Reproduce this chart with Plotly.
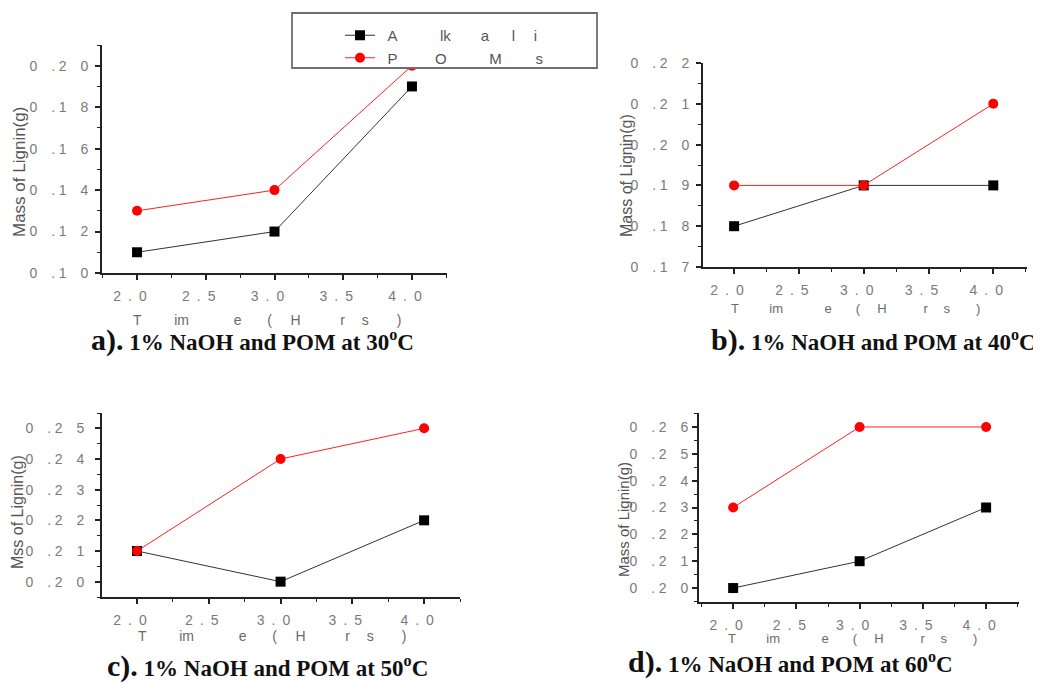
import plotly.graph_objects as go

# The page body has an 8px default margin, so the figure is drawn 8px in from the
# window's top-left corner; layout positions below are given in window pixels.
WIN_W, WIN_H, OFF = 1041, 683, 8
FW, FH = WIN_W - OFF, WIN_H - OFF

# ---------------- data ----------------
time_hrs = [2.0, 3.0, 4.0]
alkali_30 = [0.11, 0.12, 0.19]
poms_30 = [0.13, 0.14, 0.20]
alkali_40 = [0.18, 0.19, 0.19]
poms_40 = [0.19, 0.19, 0.21]
alkali_50 = [0.21, 0.20, 0.22]
poms_50 = [0.21, 0.24, 0.25]
alkali_60 = [0.20, 0.21, 0.23]
poms_60 = [0.23, 0.26, 0.26]

x_ticks = [2.0, 2.5, 3.0, 3.5, 4.0]
y_ticks_30 = [0.10, 0.12, 0.14, 0.16, 0.18, 0.20]
y_ticks_40 = [0.17, 0.18, 0.19, 0.20, 0.21, 0.22]
y_ticks_50 = [0.20, 0.21, 0.22, 0.23, 0.24, 0.25]
y_ticks_60 = [0.20, 0.21, 0.22, 0.23, 0.24, 0.25, 0.26]

series_names = ["Alkali", "POMs"]
y_titles = ["Mass of Lignin(g)", "Mass of Lignin(g)", "Mss of Lignin(g)", "Mass of Lignin(g)"]
x_title = "Time (Hrs)"
caption_labels = ["a).", "b).", "c).", "d)."]
caption_text = ["1% NaOH and POM at 30", "1% NaOH and POM at 40",
                "1% NaOH and POM at 50", "1% NaOH and POM at 60"]

# ---------------- helpers ----------------
EM, EN, P3, P4, TH = "\u2003", "\u2002", "\u2004", "\u2005", "\u2009"


def px_x(px):
    return (px - OFF) / FW


def px_y(py):
    return 1 - (py - OFF) / FH


def ylab(v):
    s = f"{v:.2f}"  # 0.20
    return s[0] + EM + "." + P4 + s[2] + EM + s[3]


def xlab(v):
    s = f"{v:.1f}"  # 2.0
    return s[0] + EN + "." + EN + s[2] + EM


def spaced_time(t):
    # "Time (Hrs)" drawn with the wide letter spacing of the original
    return ("T" + EM + EM + P3 + "im" + EM + EM + EM + TH + "e" + EM + EN + P3 +
            "(" + EM + P3 + "H" + EM + EM + EN + P3 + "r" + EM + TH + "s" + EM + EM + ")")


legend_names = {
    "Alkali": EN + "A" + EM + EM + EN + P3 + "lk" + EM + EM + "a" + EM + EN + "l" + EM + P4 + "i",
    "POMs": EN + "P" + EM + EM + EN + "O" + EM + EM + EN + P3 + "M" + EM + EM + P4 + "s",
}

TICKFONT = dict(family="Liberation Sans Narrow, Arial Narrow, Liberation Sans, Arial", size=14, color="#7a7a7a")

panels = [
    dict(alk=alkali_30, pom=poms_30, yt=y_ticks_30, yr=[0.10, 0.21], xr=[1.745, 4.255], ymin=0.01,
         box=(102, 447, 45, 273), ystand=4, ytitle=(20, 172, 17), xtitle=(267, 320, 14), cap=(252, 340)),
    dict(alk=alkali_40, pom=poms_40, yt=y_ticks_40, yr=[0.17, 0.22], xr=[1.76, 4.26], ymin=0.005,
         box=(703, 1027, 63, 267), ystand=4, ytitle=(626, 176, 16), xtitle=(855, 308, 13), cap=(873, 340)),
    dict(alk=alkali_50, pom=poms_50, yt=y_ticks_50, yr=[0.195, 0.255], xr=[1.756, 4.25], ymin=0.005,
         box=(102, 460, 413, 597), ystand=8, ytitle=(17, 512, 16), xtitle=(272, 636, 14), cap=(267, 666)),
    dict(alk=alkali_60, pom=poms_60, yt=y_ticks_60, yr=[0.1948, 0.2652], xr=[1.73, 4.26], ymin=0.005,
         box=(699, 1019, 413, 602), ystand=1, ytitle=(623, 520, 15), xtitle=(852, 638, 13), cap=(790, 662)),
]

fig = go.Figure()
annotations = []

for i, p in enumerate(panels):
    n = "" if i == 0 else str(i + 1)
    xa, ya = "x" + n, "y" + n
    fig.add_trace(go.Scatter(
        x=time_hrs, y=p["alk"], xaxis=xa, yaxis=ya, name=legend_names[series_names[0]],
        mode="lines+markers", showlegend=(i == 0),
        line=dict(color="#333333", width=1),
        marker=dict(symbol="square", size=10, color="#000000")))
    fig.add_trace(go.Scatter(
        x=time_hrs, y=p["pom"], xaxis=xa, yaxis=ya, name=legend_names[series_names[1]],
        mode="lines+markers", showlegend=(i == 0),
        line=dict(color="#ff2020", width=1),
        marker=dict(symbol="circle", size=10, color="#ff0000")))

    x0, x1, y0, y1 = p["box"]
    fig.update_layout(**{
        "xaxis" + n: dict(
            domain=[px_x(x0), px_x(x1)], range=p["xr"], anchor=ya, automargin=False,
            tickmode="array", tickvals=x_ticks, ticktext=[xlab(v) for v in x_ticks],
            ticks="outside", ticklen=5, tickwidth=1.5, tickcolor="#222",
            showline=True, linecolor="#222", linewidth=1.8, showgrid=False, zeroline=False,
            tickfont=TICKFONT, ticklabelstandoff=4,
            minor=dict(tickmode="linear", tick0=2.0, dtick=0.25, ticks="outside", ticklen=3,
                       tickwidth=1.2, tickcolor="#222", showgrid=False),
        ),
        "yaxis" + n: dict(
            domain=[px_y(y1), px_y(y0)], range=p["yr"], anchor=xa, automargin=False,
            tickmode="array", tickvals=p["yt"], ticktext=[ylab(v) for v in p["yt"]],
            ticks="outside", ticklen=5, tickwidth=1.5, tickcolor="#222",
            showline=True, linecolor="#222", linewidth=1.8, showgrid=False, zeroline=False,
            tickfont=TICKFONT, ticklabelstandoff=p["ystand"],
            minor=dict(tickmode="linear", tick0=0.0, dtick=p["ymin"], ticks="outside", ticklen=3,
                       tickwidth=1.2, tickcolor="#222", showgrid=False),
        ),
    })

    tx, ty, ts = p["ytitle"]
    annotations.append(dict(text=y_titles[i], x=px_x(tx), y=px_y(ty), xref="paper", yref="paper",
                            showarrow=False, textangle=-90, xanchor="center", yanchor="middle",
                            font=dict(family="Liberation Sans, Arial", size=ts, color="#555555")))
    xx, xy, xs = p["xtitle"]
    annotations.append(dict(text=spaced_time(x_title), x=px_x(xx), y=px_y(xy), xref="paper", yref="paper",
                            showarrow=False, xanchor="center", yanchor="middle",
                            font=dict(family="Liberation Sans Narrow, Arial Narrow, Liberation Sans, Arial",
                                      size=xs, color="#6a6a6a")))
    cx, cy = p["cap"]
    annotations.append(dict(
        text=f"<b><span style='font-size:30px'>{caption_labels[i]}</span> {caption_text[i]}<sup>o</sup>C</b>",
        x=px_x(cx), y=px_y(cy), xref="paper", yref="paper", showarrow=False,
        xanchor="center", yanchor="middle",
        font=dict(family="Liberation Serif, Times New Roman, serif", size=23, color="#111111")))

fig.update_layout(
    width=FW, height=FH, margin=dict(l=0, r=0, t=0, b=0),
    paper_bgcolor="white", plot_bgcolor="white",
    annotations=annotations,
    showlegend=True,
    legend=dict(x=px_x(340), y=px_y(19), xanchor="left", yanchor="top",
                bgcolor="rgba(0,0,0,0)", borderwidth=0, itemwidth=30,
                font=dict(family="Liberation Sans Narrow, Arial Narrow, Liberation Sans, Arial",
                          size=15, color="#555555")),
    shapes=[dict(type="rect", xref="paper", yref="paper", x0=px_x(292), x1=px_x(597),
                 y0=px_y(68), y1=px_y(13), fillcolor="white",
                 line=dict(color="#6e6e6e", width=1.8), layer="above")],
)

fig.write_html("out.html")
